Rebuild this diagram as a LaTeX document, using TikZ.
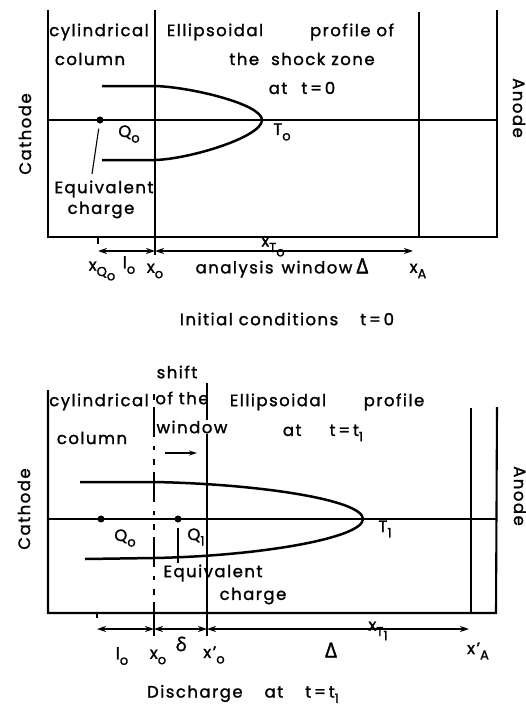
\documentclass[tikz,border=0pt]{standalone}
\usepackage{fontspec}
\setmainfont{Poppins}[LetterSpace=9,FakeBold=1.4]
\newfontfamily\grkfont{Open Sans}[FakeBold=1.4]
\usetikzlibrary{arrows.meta}
\newcommand{\dn}[1]{\raisebox{-0.6ex}{\fontsize{13}{13}\selectfont#1}}
\newcommand{\bigdelta}{{\grkfont\fontsize{21}{21}\selectfont Δ}}

\begin{document}
\begin{tikzpicture}[x=1pt,y=-1pt,
    wall/.style={line width=2.1pt},
    axisline/.style={line width=1.4pt},
    profile/.style={line width=2.5pt},
    dashdotline/.style={line width=2.1pt, dash pattern=on 6pt off 7pt on 30pt off 9pt on 4pt off 9pt},
    tickline/.style={line width=1.2pt},
    leader/.style={line width=1.1pt},
    dim/.style={{Stealth[length=9pt,width=6pt]}-{Stealth[length=9pt,width=6pt]}, line width=1.4pt},
    shiftarr/.style={-{Stealth[length=8pt,width=5pt]}, line width=1.4pt},
    lbl/.style={font=\fontsize{16.5}{18}\selectfont, inner sep=1pt},
    charge/.style={circle, fill, inner sep=0pt, minimum size=7pt}
  ]
  \useasboundingbox (0,0) rectangle (526,709);

  % initial conditions, t = 0
  \draw[wall] (48,10) -- (48,237) -- (497,237) -- (497,10);
  \draw[wall] (155,10) -- (155,255);
  \draw[wall] (419,12) -- (419,237);
  \draw[axisline] (48,120) -- (497,120);
  \draw[profile] (102,86) -- (155,86) .. controls (190,87) and (262,104) .. (262,120)
    .. controls (262,137) and (190,159) .. (155,160) -- (102,160);

  \node[charge] (q0) at (100,120) {};
  \node[lbl] (q0lbl) at (129,134) {Q\dn{o}};
  \node[lbl] (t0lbl) at (282,132) {T\dn{o}};
  \node[lbl] (equiv0) at (104,189) {Equivalent};
  \node[lbl] (charge0) at (101,210) {charge};
  \coordinate (lead0) at (92,174);
  \draw[leader, shorten <=5pt] (q0) -- (lead0);

  \node[lbl, rotate=90] (cath0) at (25,134) {Cathode};
  \node[lbl, rotate=-90] (anode0) at (519,108) {Anode};
  \node[lbl] (cyl0) at (99,32) {cylindrical};
  \node[lbl] (col0) at (90,59) {column};
  \node[lbl] (ell0) at (215,32) {Ellipsoidal};
  \node[lbl] (prof0) at (352,32) {profile of};
  \node[lbl] (shock0) at (302,59) {the\hspace{12pt}shock\hspace{6pt}zone};
  \node[lbl] (at0) at (302,88) {at\hspace{14pt}t\,=\,0};

  \coordinate (xq) at (98,251);
  \coordinate (xo) at (155,251);
  \coordinate (xa) at (413,251);
  \draw[tickline] (98,237) -- (98,244);
  \draw[dim] (xq) -- (xo);
  \draw[dim] (xo) -- (xa);
  \node[lbl] (xqlbl) at (102,271) {x\dn{Q\dn{o}}};
  \node[lbl] (l0lbl) at (129,265) {l\dn{o}};
  \node[lbl] (xolbl) at (155,271) {x\dn{o}};
  \node[lbl] (winlbl) at (282,268) {analysis\hspace{8pt}window\hspace{4pt}\bigdelta};
  \node[lbl] (xalbl) at (418,271) {x\dn{A}};
  \node[lbl] (xt0lbl) at (273,247) {x\dn{T\dn{o}}};
  \node[lbl] (cap0) at (287,319) {Initial conditions\hspace{22pt}t\,=\,0};

  % discharge, t = t1
  \draw[wall] (48,390) -- (48,613) -- (496,613) -- (497,407);
  \draw[dashdotline] (154,394) -- (154,613);
  \draw[wall] (154,613) -- (154,636);
  \draw[wall] (207,383) -- (207,636);
  \draw[wall] (471,408) -- (471,613);
  \draw[axisline] (48,519) -- (497,519);
  \draw[profile] (80,482) -- (154,482) .. controls (260,484) and (363,500) .. (363,519)
    .. controls (363,538) and (260,556) .. (154,558) -- (85,559);

  \node[charge] (q0b) at (101,519) {};
  \node[charge] (q1) at (178,519) {};
  \node[lbl] (q0blbl) at (125,538) {Q\dn{o}};
  \node[lbl] (q1lbl) at (196,537) {Q\dn{1}};
  \node[lbl] (t1lbl) at (385,529) {T\dn{1}};
  \node[lbl] (equiv1) at (213,573) {Equivalent};
  \node[lbl] (charge1) at (253,596) {charge};
  \coordinate (lead1) at (178,563);
  \draw[leader, shorten <=5pt] (q1) -- (lead1);

  \node[lbl, rotate=90] (cath1) at (24,509) {Cathode};
  \node[lbl, rotate=-90] (anode1) at (520,496) {Anode};
  \node[lbl] (cyl1) at (99,402) {cylindrical};
  \node[lbl] (col1) at (92,438) {column};
  \node[lbl] (shift1) at (177,372) {shift};
  \node[lbl] (ofthe1) at (182,398) {of the};
  \node[lbl, fill=white] (window1) at (192,427) {window};
  \coordinate (sh-a) at (165,453);
  \coordinate (sh-b) at (197,453);
  \draw[shiftarr] (sh-a) -- (sh-b);
  \node[lbl] (ell1) at (278,402) {Ellipsoidal};
  \node[lbl] (prof1) at (394,402) {profile};
  \node[lbl] (at1) at (323,433) {at\hspace{28pt}t\,=\,t\dn{1}};

  \coordinate (lo) at (97,629);
  \coordinate (xob) at (154,629);
  \coordinate (xop) at (207,629);
  \coordinate (xap) at (469,629);
  \draw[tickline] (97,613) -- (97,618);
  \draw[dim] (lo) -- (xob);
  \draw[dim] (xob) -- (xop);
  \draw[dim] (xop) -- (xap);
  \node[lbl] (lolbl) at (122,656) {l\dn{o}};
  \node[lbl] (xoblbl) at (158,657) {x\dn{o}};
  \node[lbl] (deltalbl) at (181,644) {{\grkfont\fontsize{19}{19}\selectfont δ}};
  \node[lbl] (xoplbl) at (214,655) {x’\dn{o}};
  \node[lbl] (Deltalbl) at (331,650) {\bigdelta};
  \node[lbl] (xaplbl) at (478,651) {x’\dn{A}};
  \node[lbl] (xt1lbl) at (378,631) {x\dn{T\dn{1}}};
  \node[lbl] (cap1) at (243,694) {Discharge\hspace{22pt}at\hspace{22pt}t\,=\,t\dn{1}};
\end{tikzpicture}
\end{document}
